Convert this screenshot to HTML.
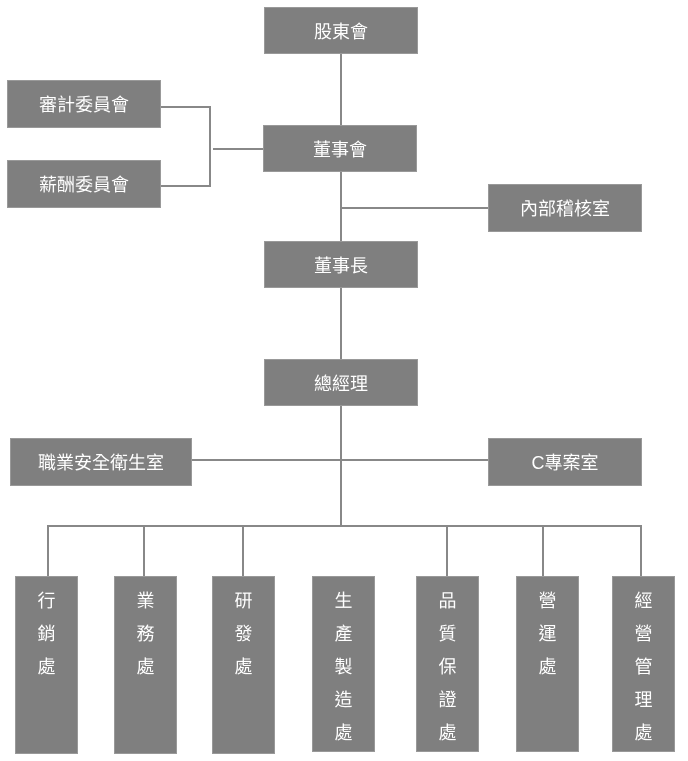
<!DOCTYPE html>
<html><head><meta charset="utf-8"><style>
body{margin:0;width:688px;height:761px;background:#fff;position:relative;overflow:hidden;font-family:"Liberation Sans","Noto Sans CJK TC",sans-serif}
.b{position:absolute;background:#7f7f7f;color:#fff;font-size:18px;display:flex;align-items:center;justify-content:center;box-sizing:border-box;border:1px solid #999}
.v{position:absolute;background:#7f7f7f;color:#fff;font-size:18px;text-align:center;line-height:33px;padding-top:8px;box-sizing:border-box;border:1px solid #999}
.l{position:absolute;background:#888}
</style></head><body>
<div class="l" style="left:340px;top:54px;width:2px;height:472px"></div>
<div class="l" style="left:161px;top:106px;width:50px;height:2px"></div>
<div class="l" style="left:161px;top:185px;width:50px;height:2px"></div>
<div class="l" style="left:209px;top:106px;width:2px;height:81px"></div>
<div class="l" style="left:213px;top:148px;width:52px;height:2px"></div>
<div class="l" style="left:341px;top:207px;width:148px;height:2px"></div>
<div class="l" style="left:192px;top:459px;width:297px;height:2px"></div>
<div class="l" style="left:47px;top:525px;width:595px;height:2px"></div>
<div class="l" style="left:47px;top:525px;width:2px;height:52px"></div>
<div class="l" style="left:143px;top:525px;width:2px;height:52px"></div>
<div class="l" style="left:242px;top:525px;width:2px;height:52px"></div>
<div class="l" style="left:446px;top:525px;width:2px;height:52px"></div>
<div class="l" style="left:542px;top:525px;width:2px;height:52px"></div>
<div class="l" style="left:640px;top:525px;width:2px;height:52px"></div>

<div class="b" style="left:264px;top:7px;width:154px;height:47px">股東會</div>
<div class="b" style="left:7px;top:80px;width:154px;height:48px">審計委員會</div>
<div class="b" style="left:7px;top:160px;width:154px;height:48px">薪酬委員會</div>
<div class="b" style="left:263px;top:125px;width:154px;height:47px">董事會</div>
<div class="b" style="left:488px;top:184px;width:154px;height:48px">內部稽核室</div>
<div class="b" style="left:264px;top:241px;width:154px;height:47px">董事長</div>
<div class="b" style="left:264px;top:359px;width:154px;height:47px">總經理</div>
<div class="b" style="left:10px;top:438px;width:182px;height:48px">職業安全衛生室</div>
<div class="b" style="left:488px;top:438px;width:154px;height:48px">C專案室</div>

<div class="v" style="left:15px;top:576px;width:63px;height:178px">行<br>銷<br>處</div>
<div class="v" style="left:114px;top:576px;width:63px;height:178px">業<br>務<br>處</div>
<div class="v" style="left:212px;top:576px;width:63px;height:178px">研<br>發<br>處</div>
<div class="v" style="left:312px;top:576px;width:63px;height:176px">生<br>產<br>製<br>造<br>處</div>
<div class="v" style="left:416px;top:576px;width:63px;height:176px">品<br>質<br>保<br>證<br>處</div>
<div class="v" style="left:516px;top:576px;width:63px;height:176px">營<br>運<br>處</div>
<div class="v" style="left:612px;top:576px;width:63px;height:176px">經<br>營<br>管<br>理<br>處</div>
</body></html>
